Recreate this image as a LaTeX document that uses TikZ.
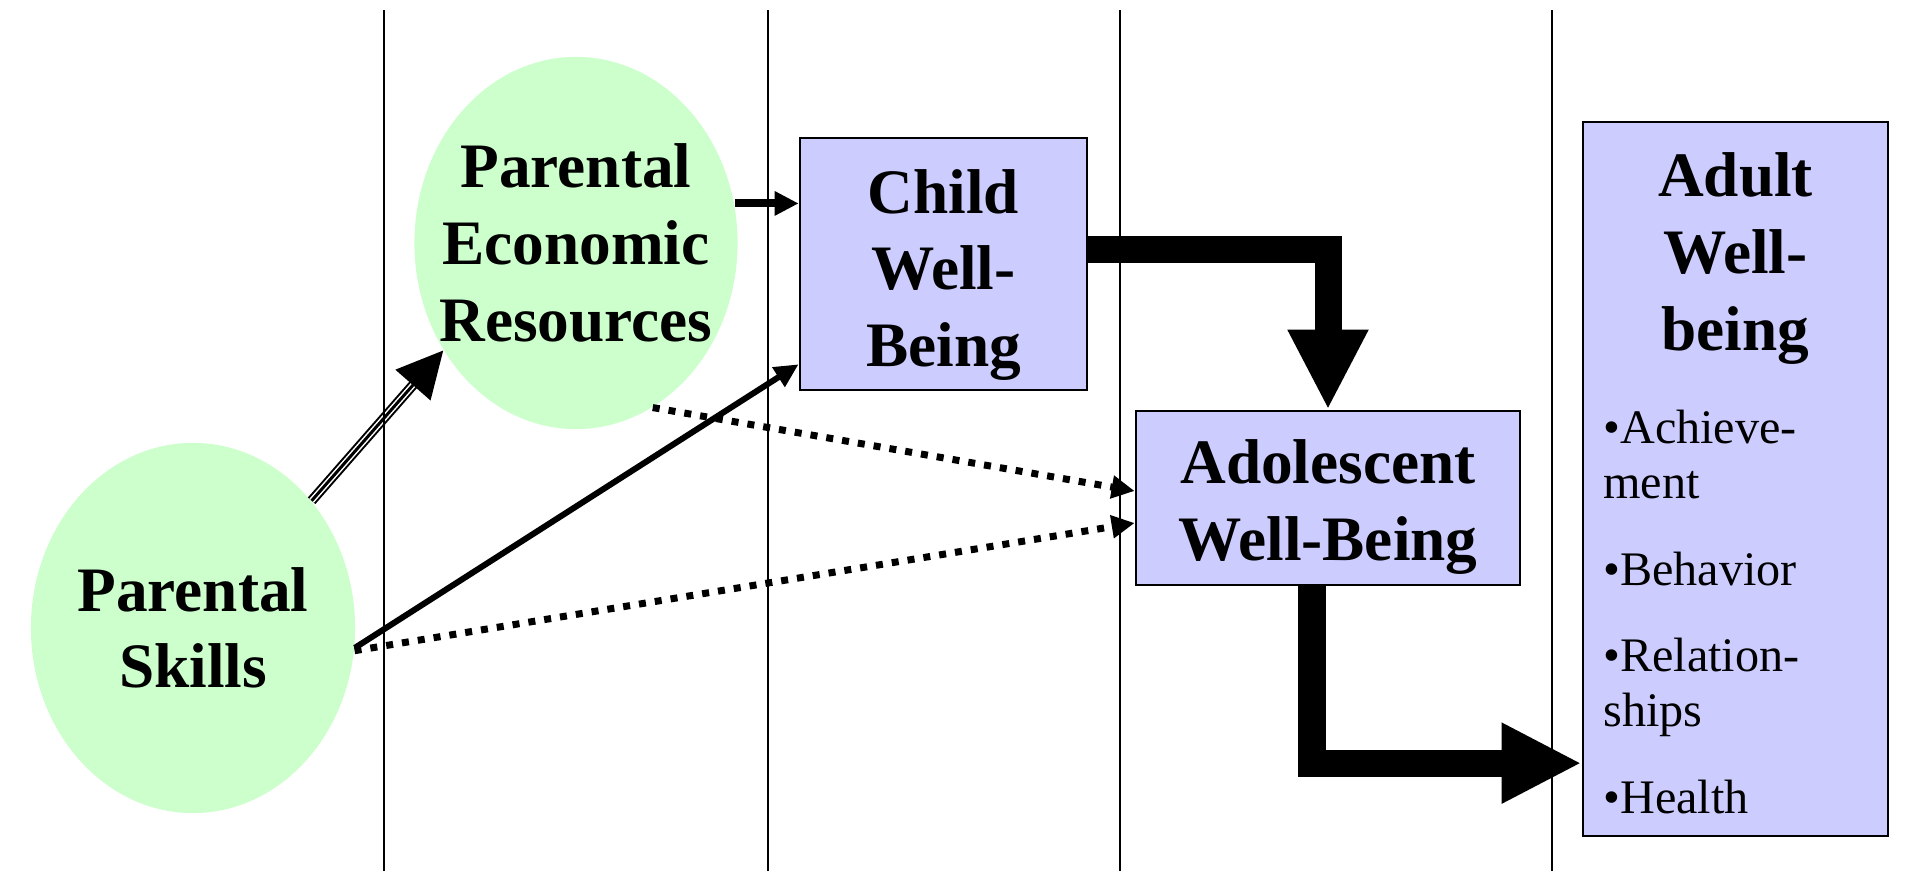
\documentclass[tikz,border=0pt]{standalone}
\usepackage{fontspec}
\setmainfont{Liberation Serif}
\usetikzlibrary{arrows.meta,positioning,shapes.geometric}
\definecolor{PaleGreen}{HTML}{CCFFCC}
\definecolor{PaleBlue}{HTML}{CCCCFF}

\begin{document}
\begin{tikzpicture}[x=0.01cm, y=0.01cm, >=Triangle]
  \tikzstyle{blob}=[ellipse, fill=PaleGreen, inner sep=0pt]
  \tikzstyle{blobtext}=[align=center, inner sep=0pt, font=\fontsize{18}{21.8}\selectfont\bfseries]
  \tikzstyle{stage}=[rectangle, draw, line width=0.025cm, fill=PaleBlue, inner sep=0pt]
  \tikzstyle{fat}=[line width=0.27cm, -{Triangle[length=0.8cm,width=0.75cm]}]
  \tikzstyle{midarrow}=[line width=0.08cm, -{Triangle[length=0.24cm,width=0.23cm]}]
  \tikzstyle{solidarrow}=[line width=0.06cm, -{Triangle[length=0.24cm,width=0.22cm]}]
  \tikzstyle{dots}=[line width=0.07cm, dash pattern=on 0.07cm off 0.09cm,
               -{Triangle[length=0.23cm,width=0.22cm]}]
  \tikzstyle{tripleline}=[double, line width=0.02cm, double distance=0.06cm, shorten >=0.3cm]
  \useasboundingbox (0,0) rectangle (1911,-871);
  % parents
  \node[blob, minimum width=3.24cm, minimum height=3.70cm] (skills) at (193,-628) {};
  \node[blobtext] (skillstext) at (skills.center) {Parental\\Skills};
  \node[blob, minimum width=3.23cm, minimum height=3.72cm] (econ) at (576,-243) {};
  \node[blobtext] (econtext) at (econ.center) {Parental\\Economic\\Resources};
  % stages of well-being
  \node[stage, minimum width=2.87cm, minimum height=2.52cm] (child) at (943.5,-264) {};
  \node[blobtext] (childtext) at ([yshift=-0.11cm]child.center) {Child\\Well-\\Being};
  \node[stage, minimum width=3.84cm, minimum height=1.74cm] (adol) at (1328,-498) {};
  \node[blobtext] (adoltext) at ([yshift=-0.09cm]adol.center) {Adolescent\\Well-Being};
  \node[stage, minimum width=3.05cm, minimum height=7.14cm] (adult) at (1735.5,-479) {};
  \node[blobtext] (adulthead) at ([yshift=-1.38cm]adult.north) {Adult\\Well-\\being};
  \node[anchor=west, align=left, inner sep=0pt, font=\fontsize{13.7}{15.6}\selectfont]
    (adultlist) at ([xshift=0.21cm,yshift=-1.33cm]adult.west)
    {\textbullet Achieve-\\ment\\[9pt]\textbullet Behavior\\[9pt]\textbullet Relation-\\ships\\[9pt]\textbullet Health};
  % links
  \draw[midarrow] (econ.14) -- (econ.14 -| child.west);
  \draw[solidarrow] (skills.-7) -- ([yshift=0.27cm]child.south west);
  \draw[dots] (econ.-65) -- ([yshift=0.07cm]adol.west);
  \draw[dots] (skills.-8) -- ([yshift=-0.25cm]adol.west);
  \draw[tripleline] (skills.47) -- (econ.219);
  \draw[line width=0.03cm, -{Triangle[length=0.46cm,width=0.46cm]}] (skills.47) -- (econ.219);
  \draw[fat] ([yshift=0.14cm]child.east) -| (adol.north);
  \draw[fat] ([xshift=-0.16cm]adol.south) |- ([yshift=-2.84cm]adult.west);
  % period lines
  \foreach \xx in {384,768,1120,1552}
    \draw[line width=0.02cm] (\xx,-10) -- (\xx,-871);
\end{tikzpicture}
\end{document}
